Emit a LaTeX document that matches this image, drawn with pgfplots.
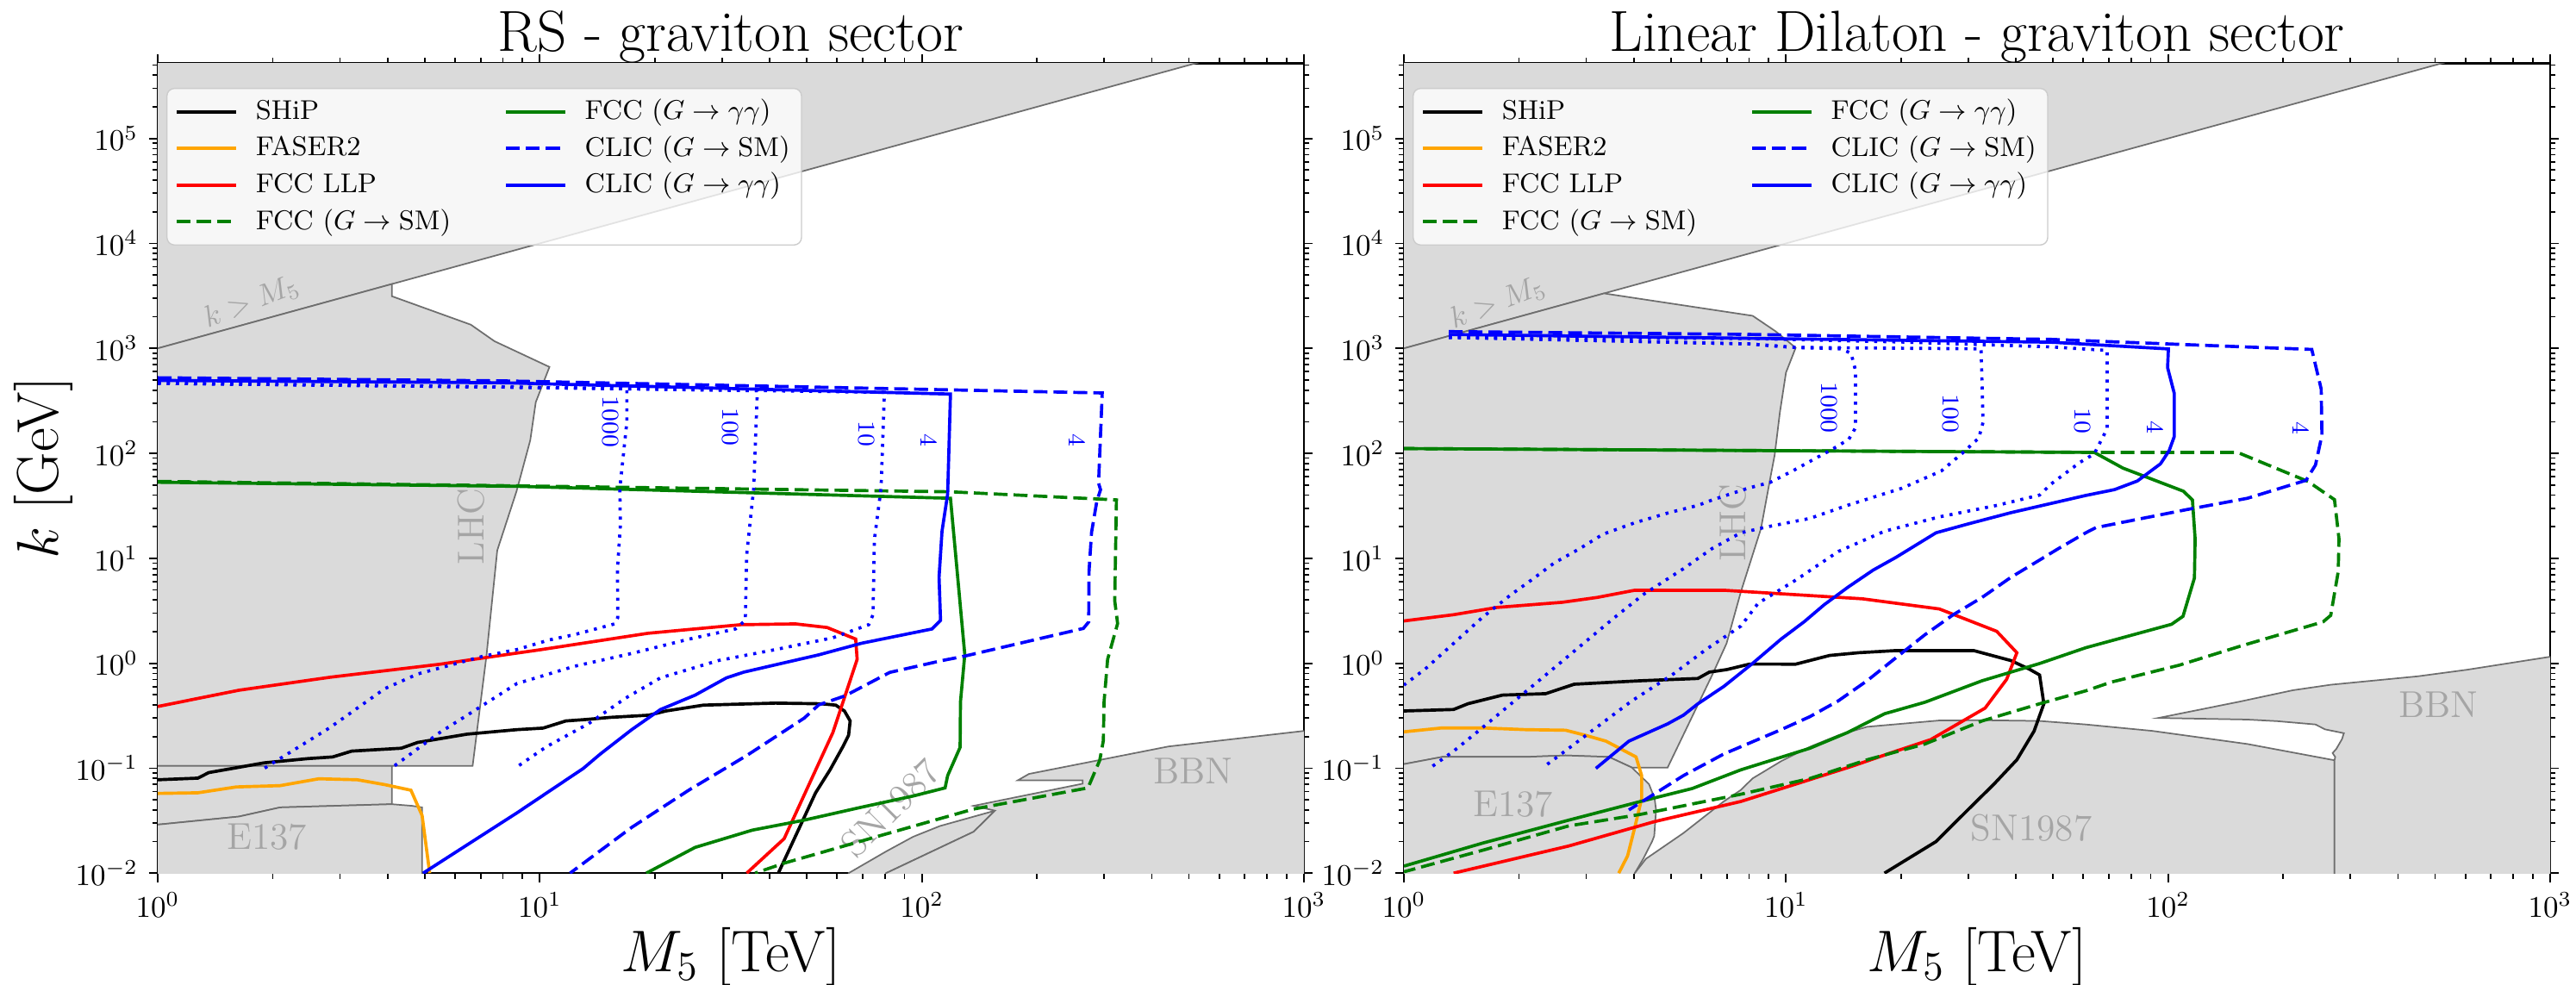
\RequirePackage{fix-cm}
\documentclass[border=0pt]{standalone}
\usepackage{pgfplots}
\pgfplotsset{compat=1.18}
\definecolor{regfill}{RGB}{218,218,218}
\definecolor{regedge}{RGB}{110,110,110}
\definecolor{regtext}{RGB}{165,165,165}
\definecolor{morange}{RGB}{255,165,0}
\definecolor{mgreen}{RGB}{0,128,0}
\tikzset{dashst/.style={dash pattern=on 4.6pt off 2pt},
         dotst/.style={dash pattern=on 1pt off 2pt}}
\begin{document}
\begin{tikzpicture}
\path[use as bounding box] (-52.29pt,-36.8pt) rectangle (801.71pt,289.49pt);
%================ LEFT PANEL =================
\begin{axis}[at={(0pt,0pt)}, anchor=south west,
    xmode=log, ymode=log, scale only axis, width=380pt, height=268.5pt,
    xmin=1, xmax=1000, ymin=0.01, ymax=5.2e5,
    xtick={1,10,100,1000},
    ytick={1e-2,1e-1,1,10,100,1000,1e4,1e5},
    minor xtick={2,3,4,5,6,7,8,9,20,30,40,50,60,70,80,90,200,300,400,500,600,700,800,900},
    minor ytick={2e-2,3e-2,4e-2,5e-2,6e-2,7e-2,8e-2,9e-2,0.2,0.3,0.4,0.5,0.6,0.7,0.8,0.9,2,3,4,5,6,7,8,9,20,30,40,50,60,70,80,90,200,300,400,500,600,700,800,900,2000,3000,4000,5000,6000,7000,8000,9000,2e4,3e4,4e4,5e4,6e4,7e4,8e4,9e4,2e5,3e5,4e5,5e5},
    tick align=outside, major tick length=3pt, minor tick length=1.8pt,
    tick style={black, line width=0.5pt},
    axis line style={line width=0.6pt},
    tick label style={font=\fontsize{10}{12}\selectfont},
    title={RS - graviton sector},
    every axis title/.style={font=\fontsize{19.2}{23}\selectfont, at={(axis description cs:0.5,1.0149)}, anchor=base},
    xlabel={$M_5$ [TeV]},
    xlabel style={font=\fontsize{19.5}{23}\selectfont, at={(axis description cs:0.5,-0.1218)}, anchor=base},
    ylabel={$k$ [GeV]},
    ylabel style={font=\fontsize{19.5}{23}\selectfont, at={(axis description cs:-0.0871,0.5)}, anchor=base},
    legend columns=2,
    legend cell align=left,
    legend image code/.code={\draw[#1] (0pt,0pt) -- (19.6pt,0pt);},
    legend style={at={(0.0075,0.9697)}, anchor=north west,
      font=\fontsize{9}{11}\selectfont, draw=black!20, fill=white,
      fill opacity=0.8, text opacity=1, rounded corners=2.5pt,
      inner xsep=2.8pt, inner ysep=2.6pt, row sep=1.9pt, nodes={inner sep=1pt},
      /tikz/every odd column/.append style={column sep=5pt},
      /tikz/every even column/.append style={column sep=16.8pt}},
  ]
\addlegendimage{black, line width=1.05pt}\addlegendentry{SHiP}
\addlegendimage{mgreen, line width=1.05pt}\addlegendentry{FCC ($G\rightarrow\gamma\gamma$)}
\addlegendimage{morange, line width=1.05pt}\addlegendentry{FASER2}
\addlegendimage{blue, line width=1.05pt, dashst}\addlegendentry{CLIC ($G\rightarrow\mathrm{SM}$)}
\addlegendimage{red, line width=1.05pt}\addlegendentry{FCC LLP}
\addlegendimage{blue, line width=1.05pt}\addlegendentry{CLIC ($G\rightarrow\gamma\gamma$)}
\addlegendimage{mgreen, line width=1.05pt, dashst}\addlegendentry{FCC ($G\rightarrow\mathrm{SM}$)}
% excluded regions
\addplot[fill=regfill, draw=regedge, line width=0.5pt, forget plot] coordinates {(0.5,500) (1000,1e6) (1000,1e7) (0.5,1e7)} -- cycle;
\addplot[fill=regfill, draw=regedge, line width=0.5pt, forget plot] coordinates {(0.5,0.105) (6.67,0.105) (7.25,1.17) (7.74,11.9) (8.69,43.4) (9.44,133) (9.76,307) (10.6,665) (7.61,1170) (6.60,1681) (4.10,3139) (4.10,4100) (0.5,500)} -- cycle;
\addplot[fill=regfill, draw=regedge, line width=0.5pt, forget plot] coordinates {(0.5,0.105) (4.10,0.105) (4.10,0.0454) (2.09,0.0423) (1.63,0.0346) (1,0.029) (0.5,0.026)} -- cycle;
\addplot[fill=regfill, draw=regedge, line width=0.5pt, forget plot] coordinates {(0.5,0.026) (1,0.029) (1.63,0.0346) (2.09,0.0423) (4.10,0.0454) (4.63,0.0438) (4.92,0.0423) (4.92,0.005) (0.5,0.005)} -- cycle;
\addplot[fill=regfill, draw=regedge, line width=0.5pt, forget plot] coordinates {(64.3,0.005) (64.3,0.01) (80.6,0.0161) (94.8,0.0222) (111.4,0.0281) (155.4,0.0394) (136.6,0.0248) (80.6,0.01) (80.6,0.005)} -- cycle;
\addplot[fill=regfill, draw=regedge, line width=0.5pt, forget plot] coordinates {(80.6,0.005) (80.6,0.01) (136.6,0.0248) (155.4,0.0394) (136.6,0.0438) (263.5,0.0712) (263.5,0.0765) (178.1,0.0765) (190.7,0.0882) (441.6,0.161) (1000,0.2265) (2000,0.26) (2000,0.005)} -- cycle;
% region labels
\node[text=regtext, font=\fontsize{12.4}{14}\selectfont] at (axis cs:1.93,0.0222) {E137};
\node[text=regtext, font=\fontsize{12.4}{14}\selectfont, rotate=90] at (axis cs:6.60,20.1) {LHC};
\node[text=regtext, font=\fontsize{12.4}{14}\selectfont, rotate=45] at (axis cs:82.7,0.042) {SN1987};
\node[text=regtext, font=\fontsize{12.4}{14}\selectfont] at (axis cs:512,0.0947) {BBN};
\node[text=regtext, font=\fontsize{10}{12}\selectfont, rotate=21] at (axis cs:1.76,2750) {$k > M_5$};
\node[text=blue, font=\fontsize{8}{10}\selectfont, rotate=-90] at (axis cs:15.3,199) {1000};
\node[text=blue, font=\fontsize{8}{10}\selectfont, rotate=-90] at (axis cs:31.6,178) {100};
\node[text=blue, font=\fontsize{8}{10}\selectfont, rotate=-90] at (axis cs:71.6,154) {10};
\node[text=blue, font=\fontsize{8}{10}\selectfont, rotate=-90] at (axis cs:104.4,133.6) {4};
\node[text=blue, font=\fontsize{8}{10}\selectfont, rotate=-90] at (axis cs:255,133.6) {4};
% SHiP
\addplot[line width=1.05pt, forget plot, black] coordinates {(1,0.0776) (1.274,0.0804) (1.36,0.0908) (1.606,0.101) (1.90,0.1125) (2.47,0.1234) (2.87,0.128) (3.22,0.1455) (4.34,0.155) (4.79,0.176) (6.45,0.211) (8.71,0.233) (10.2,0.241) (11.7,0.282) (13.2,0.291) (15.3,0.305) (19.3,0.32) (21.4,0.351) (26.8,0.399) (41.4,0.417) (54.6,0.411) (59.5,0.399) (62.7,0.351) (64.9,0.282) (64.3,0.206) (62.1,0.16) (57.5,0.0965) (52.7,0.0583) (42.1,0.01)};
% FASER2
\addplot[line width=1.05pt, forget plot, morange] coordinates {(1,0.0575) (1.274,0.0583) (1.606,0.0663) (2.09,0.0682) (2.64,0.0793) (3.33,0.0776) (3.93,0.0697) (4.60,0.0617) (4.92,0.0354) (5.15,0.01)};
% FCC LLP
\addplot[line width=1.05pt, forget plot, red] coordinates {(1,0.387) (1.63,0.553) (2.82,0.735) (5.47,0.978) (8.71,1.25) (10.1,1.35) (19.2,1.93) (33.6,2.33) (46.7,2.37) (56.5,2.19) (67.1,1.70) (67.7,1.09) (58.5,0.219) (43.6,0.0213) (34.8,0.01)};
% FCC G->SM
\addplot[line width=1.05pt, forget plot, mgreen, dashst] coordinates {(1,54) (8.71,49) (118.8,43) (323,36) (319.7,3.94) (325.3,2.39) (306.3,1.09) (299.8,0.431) (298.5,0.183) (292.1,0.119) (272.1,0.0649) (136.6,0.0408) (78.9,0.0231) (43.6,0.01245) (36.6,0.01)};
% FCC G->gg
\addplot[line width=1.05pt, forget plot, mgreen] coordinates {(1,53) (8.71,48.5) (118.8,37.3) (129.5,1.21) (126.2,0.431) (125.9,0.158) (116.8,0.085) (115.0,0.0649) (94.8,0.0543) (69.5,0.0425) (49.2,0.032) (36.0,0.0257) (25.5,0.0176) (19.0,0.01)};
% CLIC G->SM
\addplot[line width=1.05pt, forget plot, blue, dashst] coordinates {(1,525) (8,490) (41.4,435) (296.5,376) (290,52) (293.5,45) (287,35) (278,17.6) (273.8,7.48) (273.3,2.475) (264.6,2.146) (129.5,1.17) (112.9,1.06) (82.4,0.818) (63,0.49) (53.7,0.401) (49.2,0.30) (34.8,0.132) (24.6,0.0621) (17.4,0.0273) (12.0,0.01)};
% CLIC G->gg
\addplot[line width=1.05pt, forget plot, blue] coordinates {(1,495) (8,470) (118.8,367) (116.8,41.0) (112.9,18.1) (110.9,6.59) (111.9,2.56) (106.2,2.12) (69.5,1.55) (53.6,1.20) (42.8,0.994) (34.2,0.823) (30.8,0.726) (25.5,0.497) (20.7,0.3625) (17.4,0.233) (14.4,0.1365) (13.0,0.0996) (8.71,0.0375) (4.95,0.01)};
% CLIC dotted contours
\addplot[line width=1.05pt, forget plot, blue, dotst] coordinates {(1,465) (8,428) (16.9,412) (16.9,200) (16.2,46.5) (16.25,20.5) (15.97,7.96) (16.0,2.73) (15.7,2.37) (12.3,1.87) (10.6,1.67) (8.71,1.35) (7.13,1.17) (4.79,0.79) (3.93,0.573) (2.82,0.243) (1.90,0.0996)};
\addplot[line width=1.05pt, forget plot, blue, dotst] coordinates {(1,465) (8,428) (37.1,395) (36.3,46.5) (34.8,10.9) (34.5,2.56) (32.5,2.12) (24.6,1.70) (17.4,1.24) (12.3,0.934) (8.71,0.64) (6.90,0.373) (5.47,0.2185) (4.13,0.103)};
\addplot[line width=1.05pt, forget plot, blue, dotst] coordinates {(1,465) (8,428) (79.8,381) (78.2,46.5) (75.1,14.96) (74.5,2.90) (72.6,2.33) (58.5,1.75) (41.4,1.35) (29.3,1.06) (20.7,0.726) (16.8,0.467) (13.4,0.265) (10.4,0.16) (8.71,0.1028)};
\end{axis}
%================ RIGHT PANEL =================
\begin{axis}[at={(413.14pt,0pt)}, anchor=south west,
    xmode=log, ymode=log, scale only axis, width=380pt, height=268.5pt,
    xmin=1, xmax=1000, ymin=0.01, ymax=5.2e5,
    xtick={1,10,100,1000},
    ytick={1e-2,1e-1,1,10,100,1000,1e4,1e5},
    minor xtick={2,3,4,5,6,7,8,9,20,30,40,50,60,70,80,90,200,300,400,500,600,700,800,900},
    minor ytick={2e-2,3e-2,4e-2,5e-2,6e-2,7e-2,8e-2,9e-2,0.2,0.3,0.4,0.5,0.6,0.7,0.8,0.9,2,3,4,5,6,7,8,9,20,30,40,50,60,70,80,90,200,300,400,500,600,700,800,900,2000,3000,4000,5000,6000,7000,8000,9000,2e4,3e4,4e4,5e4,6e4,7e4,8e4,9e4,2e5,3e5,4e5,5e5},
    tick align=outside, major tick length=3pt, minor tick length=1.8pt,
    tick style={black, line width=0.5pt},
    axis line style={line width=0.6pt},
    tick label style={font=\fontsize{10}{12}\selectfont},
    title={Linear Dilaton - graviton sector},
    every axis title/.style={font=\fontsize{19.2}{23}\selectfont, at={(axis description cs:0.5,1.0149)}, anchor=base},
    xlabel={$M_5$ [TeV]},
    xlabel style={font=\fontsize{19.5}{23}\selectfont, at={(axis description cs:0.5,-0.1218)}, anchor=base},
    legend columns=2,
    legend cell align=left,
    legend image code/.code={\draw[#1] (0pt,0pt) -- (19.6pt,0pt);},
    legend style={at={(0.0075,0.9697)}, anchor=north west,
      font=\fontsize{9}{11}\selectfont, draw=black!20, fill=white,
      fill opacity=0.8, text opacity=1, rounded corners=2.5pt,
      inner xsep=2.8pt, inner ysep=2.6pt, row sep=1.9pt, nodes={inner sep=1pt},
      /tikz/every odd column/.append style={column sep=5pt},
      /tikz/every even column/.append style={column sep=16.8pt}},
  ]
\addlegendimage{black, line width=1.05pt}\addlegendentry{SHiP}
\addlegendimage{mgreen, line width=1.05pt}\addlegendentry{FCC ($G\rightarrow\gamma\gamma$)}
\addlegendimage{morange, line width=1.05pt}\addlegendentry{FASER2}
\addlegendimage{blue, line width=1.05pt, dashst}\addlegendentry{CLIC ($G\rightarrow\mathrm{SM}$)}
\addlegendimage{red, line width=1.05pt}\addlegendentry{FCC LLP}
\addlegendimage{blue, line width=1.05pt}\addlegendentry{CLIC ($G\rightarrow\gamma\gamma$)}
\addlegendimage{mgreen, line width=1.05pt, dashst}\addlegendentry{FCC ($G\rightarrow\mathrm{SM}$)}
\addplot[fill=regfill, draw=regedge, line width=0.5pt, forget plot] coordinates {(0.5,500) (1000,1e6) (1000,1e7) (0.5,1e7)} -- cycle;
\addplot[fill=regfill, draw=regedge, line width=0.5pt, forget plot] coordinates {(0.5,0.105) (1,0.1094) (1.259,0.128) (2.08,0.128) (2.65,0.1323) (3.44,0.128) (3.95,0.1015) (4.90,0.1015) (6.41,0.773) (6.99,1.546) (7.62,4.8) (8.60,19.2) (9.14,63.7) (9.34,96.4) (9.64,247) (10.0,589) (10.6,1013) (9.39,1455) (8.18,2043) (3.34,3340) (0.5,500)} -- cycle;
\addplot[fill=regfill, draw=regedge, line width=0.5pt, forget plot] coordinates {(0.5,0.005) (0.5,0.105) (1,0.1094) (1.259,0.128) (2.08,0.128) (2.65,0.1323) (3.44,0.128) (3.95,0.1015) (4.38,0.0704) (4.53,0.0514) (4.57,0.040) (4.52,0.0226) (4.46,0.02) (4.23,0.0137) (4.02,0.01) (3.9,0.005)} -- cycle;
\addplot[fill=regfill, draw=regedge, line width=0.5pt, forget plot] coordinates {(3.9,0.005) (4.02,0.01) (4.30,0.0137) (5.39,0.0241) (6.87,0.0482) (7.62,0.0621) (8.17,0.0798) (9.71,0.1166) (11.55,0.16) (13.7,0.2056) (16.3,0.248) (25.2,0.285) (32.6,0.2866) (46.1,0.282) (60.9,0.261) (91.1,0.2265) (161.3,0.170) (272.6,0.119) (272.6,0.005)} -- cycle;
\addplot[fill=regfill, draw=regedge, line width=0.5pt, forget plot] coordinates {(94.3,0.301) (154,0.431) (212.1,0.553) (266.5,0.624) (450.3,0.751) (605.8,0.867) (1000,1.153) (2000,1.3) (2000,0.005) (272.6,0.005) (272.6,0.119) (273.8,0.128) (269.5,0.1393) (275.7,0.153) (285.2,0.1894) (288.5,0.2155) (257.4,0.2345) (243.1,0.261) (193.5,0.2805) (161.3,0.2907)} -- cycle;
\node[text=regtext, font=\fontsize{12.4}{14}\selectfont] at (axis cs:1.93,0.045) {E137};
\node[text=regtext, font=\fontsize{12.4}{14}\selectfont, rotate=90] at (axis cs:7.25,21.8) {LHC};
\node[text=regtext, font=\fontsize{12.4}{14}\selectfont] at (axis cs:43.9,0.027) {SN1987};
\node[text=regtext, font=\fontsize{12.4}{14}\selectfont] at (axis cs:510,0.401) {BBN};
\node[text=regtext, font=\fontsize{10}{12}\selectfont, rotate=21] at (axis cs:1.76,2700) {$k > M_5$};
\node[text=blue, font=\fontsize{8}{10}\selectfont, rotate=-90] at (axis cs:13.0,272) {1000};
\node[text=blue, font=\fontsize{8}{10}\selectfont, rotate=-90] at (axis cs:27.0,240) {100};
\node[text=blue, font=\fontsize{8}{10}\selectfont, rotate=-90] at (axis cs:59.6,203) {10};
\node[text=blue, font=\fontsize{8}{10}\selectfont, rotate=-90] at (axis cs:92.8,178) {4};
\node[text=blue, font=\fontsize{8}{10}\selectfont, rotate=-90] at (axis cs:222.9,175) {4};
% SHiP
\addplot[line width=1.05pt, forget plot, black] coordinates {(1,0.351) (1.349,0.3625) (1.47,0.411) (1.81,0.497) (2.35,0.513) (2.79,0.631) (4.16,0.681) (5.88,0.716) (6.30,0.823) (7.0,0.87) (8.03,0.982) (10.6,0.98) (13.0,1.186) (15.5,1.26) (19.4,1.32) (31.0,1.32) (38.8,1.06) (43.4,0.876) (46.1,0.773) (47.3,0.411) (44.6,0.226) (40.2,0.1203) (35.0,0.0704) (29.9,0.040) (24.7,0.02) (18.1,0.01)};
% FASER2
\addplot[line width=1.05pt, forget plot, morange] coordinates {(1,0.222) (1.259,0.242) (1.604,0.242) (2.08,0.233) (2.65,0.230) (2.99,0.2056) (3.38,0.181) (4.05,0.128) (4.19,0.085) (4.19,0.0514) (4.02,0.0273) (3.85,0.0146) (3.65,0.01)};
% FCC LLP
\addplot[line width=1.05pt, forget plot, red] coordinates {(1,2.53) (1.349,2.90) (1.75,3.40) (2.60,3.81) (3.21,4.24) (4.02,4.96) (6.87,4.96) (15.85,4.11) (25.2,3.29) (35.6,2.015) (40.2,1.26) (37.8,0.703) (33.2,0.374) (23.9,0.187) (19.4,0.1454) (14.7,0.1028) (7.62,0.0482) (4.53,0.031) (2.70,0.01815) (1.349,0.01)};
% FCC G->SM
\addplot[line width=1.05pt, forget plot, mgreen, dashst] coordinates {(1,111) (64.7,102) (152,102) (232.3,54) (272.6,36.2) (280.1,15.3) (278.8,7.48) (266.5,2.86) (254.5,2.48) (154,1.449) (106.9,0.958) (70.9,0.66) (60.9,0.546) (46.1,0.411) (32.6,0.282) (23.1,0.170) (16.3,0.1203) (11.55,0.0798) (7.62,0.0565) (4.16,0.0363) (2.70,0.0282) (1.604,0.0165) (1,0.0103)};
% FCC G->gg
\addplot[line width=1.05pt, forget plot, mgreen] coordinates {(1,111) (64.1,102) (76.2,72.3) (109.6,43.6) (115.8,36.0) (117.7,15.3) (117.2,6.49) (109.4,2.80) (102.1,2.35) (60.9,1.406) (46.1,0.994) (32.6,0.681) (23.1,0.425) (18.1,0.33) (14.5,0.219) (11.55,0.155) (7.62,0.0965) (5.68,0.064) (4.16,0.0482) (2.70,0.032) (1.604,0.0193) (1,0.01167)};
% CLIC G->SM
\addplot[line width=1.05pt, forget plot, blue, dashst] coordinates {(1.31,1445) (8.03,1358) (49.4,1218) (172,1021) (237.7,977) (251.6,410) (252.7,148.6) (243.1,77.5) (229.6,55.3) (161.3,37.3) (111.9,29.1) (64.7,19.6) (60.9,17.5) (51.5,12.3) (46.1,9.62) (38.8,6.59) (32.6,4.24) (27.4,2.90) (23.1,1.87) (19.4,1.128) (16.3,0.681) (13.7,0.438) (11.55,0.31) (9.71,0.233) (6.87,0.1365) (5.39,0.085) (3.88,0.040)};
% CLIC G->gg
\addplot[line width=1.05pt, forget plot, blue] coordinates {(1.31,1357) (49.4,1145) (100.2,988) (99.7,656) (103.8,372) (103.8,144.5) (100.6,105.7) (95.5,79.4) (83.1,54.5) (72.4,45.1) (60.9,39.7) (38.8,27.2) (29.9,21.2) (24.7,17.5) (19.4,10.2) (16.9,7.71) (14.5,5.28) (12.6,3.62) (11.15,2.48) (9.71,1.70) (8.17,0.994) (6.87,0.60) (5.88,0.411) (5.39,0.32) (4.90,0.2645) (3.88,0.181) (3.18,0.0996)};
% CLIC dotted contours
\addplot[line width=1.05pt, forget plot, blue, dotst] coordinates {(1.311,1274) (8.03,1102) (10.5,1021) (13.9,990) (14.8,900) (15.2,617) (15.2,175) (14.6,136) (13.2,109) (11.8,87.4) (10.4,67.9) (9.08,52.8) (7.95,46.5) (6.43,36.1) (5.88,31.9) (4.94,27.2) (4.02,21.8) (3.32,16.96) (2.89,12.4) (2.474,9.03) (2.154,6.19) (1.908,4.51) (1.604,2.73) (1.349,1.546) (1.135,0.877) (1,0.62)};
\addplot[line width=1.05pt, forget plot, blue, dotst] coordinates {(1.311,1274) (8.03,1102) (10.5,1021) (32.4,990) (32.8,198) (31.96,140) (29.1,102) (25.5,67.9) (20.1,46.5) (14.5,32) (11.55,24.0) (8.91,19.9) (7.62,17.5) (6.41,12.4) (5.39,7.96) (4.23,4.51) (3.56,2.73) (2.89,1.45) (2.35,0.773) (1.908,0.411) (1.55,0.219) (1.349,0.1454) (1.175,0.1015)};
\addplot[line width=1.05pt, forget plot, blue, dotst] coordinates {(1.311,1274) (8.03,1240) (20,1150) (49.4,1033) (69.3,955) (69.3,172) (64.1,99) (58.8,82) (49.4,51) (46.1,40) (35.6,31.9) (25.2,24.8) (18.1,18.1) (13.7,11.6) (10.6,6.19) (8.46,3.74) (7.62,2.26) (6.19,1.36) (5.03,0.773) (3.95,0.438) (3.10,0.226) (2.52,0.128) (2.31,0.1015)};
\end{axis}
\end{tikzpicture}
\end{document}
